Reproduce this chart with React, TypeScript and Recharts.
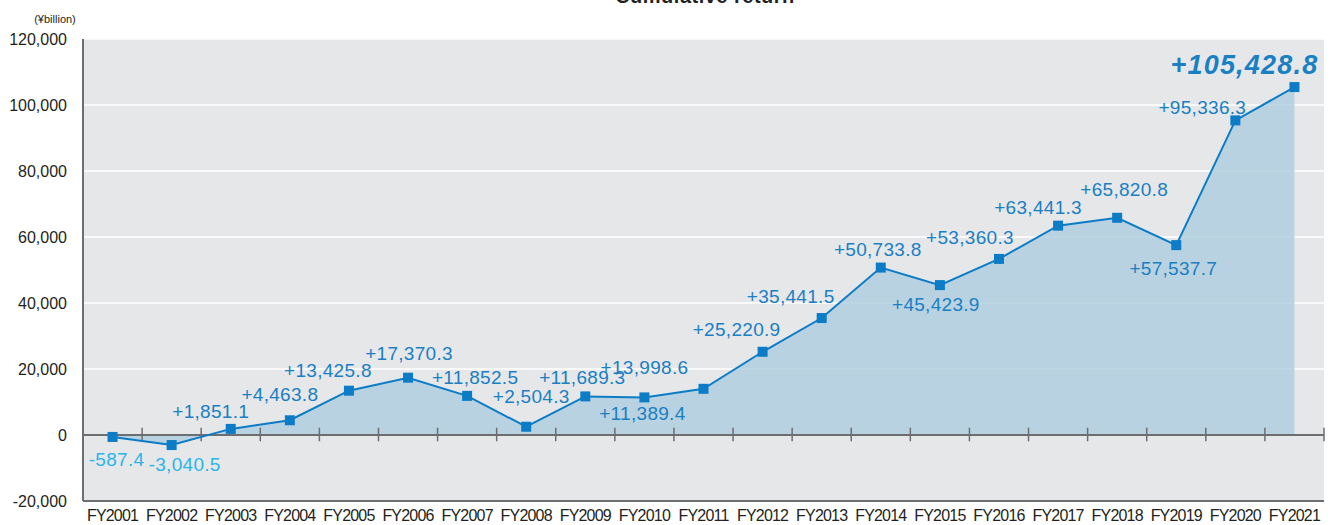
import React from 'react';
import { ComposedChart, Area, Line, XAxis, YAxis, CartesianGrid, ReferenceLine, LabelList } from 'recharts';

const categories = ['FY2001','FY2002','FY2003','FY2004','FY2005','FY2006','FY2007','FY2008','FY2009','FY2010','FY2011','FY2012','FY2013','FY2014','FY2015','FY2016','FY2017','FY2018','FY2019','FY2020','FY2021'];
const cumulativeReturn = [-587.4,-3040.5,1851.1,4463.8,13425.8,17370.3,11852.5,2504.3,11689.3,11389.4,13998.6,25220.9,35441.5,50733.8,45423.9,53360.3,63441.3,65820.8,57537.7,95336.3,105428.8];
const yTicks = [-20000,0,20000,40000,60000,80000,100000,120000];
const boundaryTicks = [1,2,3,4,5,6,7,8,9,10,11,12,13,14,15,16,17,18,19,20,21];

// label placement (text centre relative to point)
const labelOffsets: [number, number][] = [
  [4,23],[13,19],[-20,-17],[-10,-26],[-21,-20],[1,-24],[8,-18],[5,-30],[-3,-19],[-2,16],
  [-59,-21],[-26,-22],[-31,-22],[-3,-18],[-4,19],[-29,-21],[-20,-18],[7,-28],[-3,23],[-33,-13],[-50,-22]
];

const data = categories.map((c, i) => ({ cat: c, idx: i, v: cumulativeReturn[i] }));

const fmtNum = (v: number) => v.toLocaleString('en-US');
const fmtLabel = (v: number) => {
  const s = Math.abs(v).toLocaleString('en-US', { minimumFractionDigits: 1, maximumFractionDigits: 1 });
  return (v < 0 ? '-' : '+') + s;
};

const FONT = '"Liberation Sans", Arial, Helvetica, sans-serif';
const LINE = '#0b7cc5';

const SquareDot = (props: any) => {
  const { cx, cy, index } = props;
  if (cx == null || cy == null) return <g key={index} />;
  return <rect key={index} x={cx - 5} y={cy - 5} width={10} height={10} fill={LINE} />;
};

const DataLabel = (props: any) => {
  const { x, y, index, value } = props;
  const [dx, dy] = labelOffsets[index] || [0, -20];
  const isLast = index === cumulativeReturn.length - 1;
  const neg = value < 0;
  return (
    <text
      x={x + dx}
      y={y + dy}
      textAnchor="middle"
      dominantBaseline="central"
      fontFamily={FONT}
      fontSize={isLast ? 27 : 19}
      fontWeight={isLast ? 'bold' : 'normal'}
      fontStyle={isLast ? 'italic' : 'normal'}
      letterSpacing={isLast ? 1.2 : 0.3}
      fill={neg ? '#2cb4e8' : '#1a7fc3'}
    >
      {fmtLabel(value)}
    </text>
  );
};

export default function App() {
  return (
    <div style={{ position: 'absolute', left: 0, top: 0, width: 1335, height: 525, background: '#fff', fontFamily: FONT }}>
      <ComposedChart width={1335} height={525} data={data} margin={{ top: 39, right: 11, bottom: 0, left: 0 }}>
        <CartesianGrid vertical={false} horizontal={true} stroke="#ffffff" strokeWidth={1.5} fill="#e6e7e9" fillOpacity={1} />
        <XAxis
          dataKey="cat"
          xAxisId="cat"
          scale="band"
          height={24}
          tickLine={false}
          tickSize={0}
          tickMargin={9}
          axisLine={{ stroke: '#6d6e70', strokeWidth: 2 }}
          tick={{ fill: '#231f20', fontSize: 16, fontFamily: FONT, letterSpacing: -0.8 } as any}
          interval={0}
        />
        <XAxis xAxisId="num" type="number" dataKey="idx" domain={[0, 21]} hide />
        <YAxis
          width={83}
          domain={[-20000, 120000]}
          ticks={yTicks}
          tickFormatter={fmtNum}
          tickLine={false}
          tickSize={8}
          tickMargin={8}
          axisLine={{ stroke: '#6d6e70', strokeWidth: 2 }}
          tick={{ fill: '#231f20', fontSize: 16, fontFamily: FONT } as any}
          allowDataOverflow
        />
        <Area
          xAxisId="cat"
          type="linear"
          dataKey="v"
          stroke="none"
          fill="#aecddf"
          fillOpacity={0.8}
          isAnimationActive={false}
          dot={false}
          activeDot={false}
        />
        <ReferenceLine xAxisId="cat" y={0} stroke="#6d6e70" strokeWidth={2} />
        {boundaryTicks.map((b) => (
          <ReferenceLine
            key={b}
            xAxisId="num"
            segment={[{ x: b, y: -1900 }, { x: b, y: 2200 }]}
            stroke="#6d6e70"
            strokeWidth={1.5}
            ifOverflow="visible"
          />
        ))}
        <Line
          xAxisId="cat"
          type="linear"
          dataKey="v"
          stroke={LINE}
          strokeWidth={2}
          dot={<SquareDot />}
          activeDot={false}
          isAnimationActive={false}
        >
          <LabelList dataKey="v" content={<DataLabel />} />
        </Line>
      </ComposedChart>
      <svg width={1335} height={525} style={{ position: 'absolute', left: 0, top: 0, pointerEvents: 'none' }}>
        <text x={705} y={3} textAnchor="middle" fontFamily={FONT} fontWeight="bold" fontSize={20} letterSpacing={0.5} fill="#231f20">Cumulative return</text>
        <text x={55} y={23} textAnchor="middle" fontFamily={FONT} fontSize={11} fill="#231f20">(¥billion)</text>
      </svg>
    </div>
  );
}
